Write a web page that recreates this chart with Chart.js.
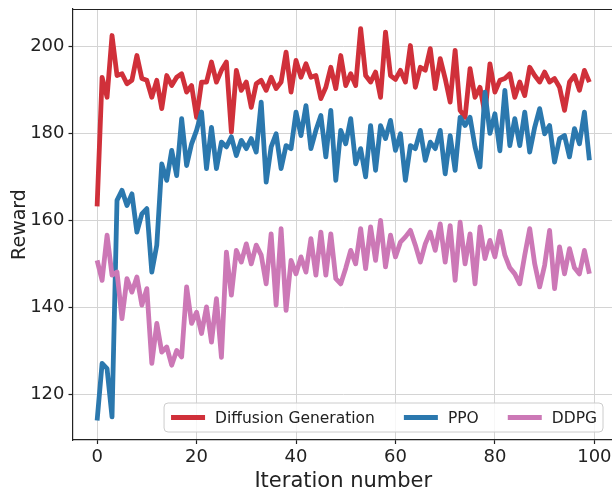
<!DOCTYPE html>
<html>
<head>
<meta charset="utf-8">
<script src="https://cdn.jsdelivr.net/npm/chart.js@4.4.1/dist/chart.umd.min.js"></script>
<style>
html,body{margin:0;padding:0;overflow:hidden;background:#ffffff;width:612px;height:494px;}
#wrap{position:absolute;left:0;top:0;width:614px;height:494px;}
</style>
</head>
<body>
<div id="wrap"><canvas id="c" width="614" height="494"></canvas></div>
<script>
const iterations = [0,1,2,3,4,5,6,7,8,9,10,11,12,13,14,15,16,17,18,19,20,21,22,23,24,25,26,27,28,29,30,31,32,33,34,35,36,37,38,39,40,41,42,43,44,45,46,47,48,49,50,51,52,53,54,55,56,57,58,59,60,61,62,63,64,65,66,67,68,69,70,71,72,73,74,75,76,77,78,79,80,81,82,83,84,85,86,87,88,89,90,91,92,93,94,95,96,97,98,99];

const diffusionGeneration = [163.2,192.9,188.3,202.5,193.3,193.7,191.4,192.2,197.9,192.6,
192.2,188.3,192.2,185.7,193.3,191.0,192.9,193.7,189.5,191.0,
183.7,191.8,191.8,196.4,191.8,194.5,196.4,180.3,194.5,189.9,
191.8,186.0,191.4,192.2,189.9,192.9,190.3,191.8,198.7,189.5,
196.8,192.9,196.0,192.9,193.3,188.0,190.6,195.2,190.3,197.9,
191.0,193.7,191.0,204.1,193.3,191.8,194.1,188.3,203.3,193.3,
192.4,194.5,191.8,200.2,190.6,195.2,194.5,199.5,190.3,197.2,
192.6,187.2,199.1,185.3,183.7,194.9,188.3,190.6,184.5,196.0,
189.5,192.2,192.6,193.7,188.3,191.8,188.7,195.2,193.3,191.8,
194.1,191.8,192.6,190.6,185.3,191.8,193.3,189.9,194.5,191.8];

const ppo = [114.0,127.1,125.9,114.8,164.6,166.9,163.4,166.1,157.3,161.5,
162.7,148.1,154.3,173.0,169.2,176.1,170.3,183.4,172.6,177.6,
180.7,184.9,171.9,181.4,171.9,178.0,176.9,179.2,174.9,178.4,
176.5,178.8,175.7,187.2,168.8,176.9,179.9,171.9,177.2,176.5,
184.9,179.5,186.4,176.5,180.7,184.1,174.6,185.3,169.2,180.7,
177.6,183.4,173.0,176.5,170.0,181.8,171.5,181.8,178.8,183.0,
176.1,179.9,169.2,177.2,176.5,180.7,173.8,178.0,176.5,180.7,
170.7,179.5,171.5,183.7,181.8,183.7,176.9,172.3,189.5,180.0,
184.5,176.0,189.9,177.2,183.4,177.2,184.9,175.7,181.4,185.7,
179.9,181.8,173.4,178.8,179.5,174.6,181.1,177.6,184.9,173.8];

const ddpg = [150.8,146.2,156.6,147.4,148.1,137.4,146.6,143.5,147.0,140.5,
144.3,127.1,136.3,129.7,130.9,126.7,130.1,128.6,144.7,136.3,
138.9,134.0,140.1,132.0,142.0,128.5,152.7,142.8,153.1,150.4,
154.6,150.0,154.3,152.0,145.4,156.9,140.5,158.1,139.3,150.8,
147.7,151.6,148.1,155.8,147.4,157.3,147.4,156.9,146.6,145.4,
149.0,153.1,150.0,158.1,148.9,158.5,150.8,160.0,149.3,156.6,
151.6,155.0,156.2,157.7,154.3,150.4,154.6,157.3,153.1,159.2,
150.4,158.8,146.2,159.6,150.0,156.9,145.4,158.5,151.2,155.4,
151.6,157.5,152.0,149.1,147.7,145.4,152.0,158.1,150.0,144.7,
149.7,157.7,144.3,153.9,147.7,153.5,149.1,147.7,153.1,147.7];

const xTicks = [0,20,40,60,80,100];
const yTicks = [120,140,160,180,200];
const seriesNames = ['Diffusion Generation','PPO','DDPG'];
const seriesColors = ['#d0303a','#2b78ae','#cc78b6'];

const FONT = "'DejaVu Sans', sans-serif";
const TEXT = '#222222';

Chart.defaults.font.family = FONT;
Chart.defaults.color = TEXT;

const framePlugin = {
  id: 'frameAndLegend',
  afterDraw(chart) {
    const ctx = chart.ctx;
    const a = chart.chartArea;
    ctx.save();
    // top spine
    ctx.strokeStyle = TEXT;
    ctx.lineWidth = 1.2;
    ctx.beginPath();
    ctx.moveTo(a.left, a.top + 0.5);
    ctx.lineTo(a.right, a.top + 0.5);
    ctx.stroke();

    // legend (lower right, inside axes)
    const ds = chart.data.datasets;
    ctx.font = '15.5px ' + FONT;
    const handle = 34, gapHT = 10, colGap = 29, padL = 7, padR = 6;
    const widths = ds.map(d => ctx.measureText(d.label).width);
    let total = padL + padR;
    widths.forEach((w, i) => { total += handle + gapHT + w; if (i > 0) total += colGap; });
    const right = 603, bottom = 432, h = 29;
    const left = right - total, top = bottom - h;
    const r = 4;
    ctx.beginPath();
    ctx.moveTo(left + r, top);
    ctx.lineTo(right - r, top);
    ctx.quadraticCurveTo(right, top, right, top + r);
    ctx.lineTo(right, bottom - r);
    ctx.quadraticCurveTo(right, bottom, right - r, bottom);
    ctx.lineTo(left + r, bottom);
    ctx.quadraticCurveTo(left, bottom, left, bottom - r);
    ctx.lineTo(left, top + r);
    ctx.quadraticCurveTo(left, top, left + r, top);
    ctx.closePath();
    ctx.fillStyle = 'rgba(255,255,255,0.8)';
    ctx.fill();
    ctx.strokeStyle = '#cccccc';
    ctx.lineWidth = 1;
    ctx.stroke();

    const cy = top + h / 2;
    let x = left + padL;
    ds.forEach((d, i) => {
      if (i > 0) x += colGap;
      ctx.strokeStyle = d.borderColor;
      ctx.lineWidth = 4.8;
      ctx.lineCap = 'butt';
      ctx.beginPath();
      ctx.moveTo(x, cy);
      ctx.lineTo(x + handle, cy);
      ctx.stroke();
      x += handle + gapHT;
      ctx.fillStyle = TEXT;
      ctx.textBaseline = 'middle';
      ctx.textAlign = 'left';
      ctx.fillText(d.label, x, cy + 1);
      x += widths[i];
    });
    ctx.restore();
  }
};

const seriesData = [diffusionGeneration, ppo, ddpg];

new Chart(document.getElementById('c'), {
  type: 'line',
  data: {
    labels: iterations,
    datasets: seriesData.map((arr, i) => ({
      label: seriesNames[i],
      data: arr,
      borderColor: seriesColors[i],
      backgroundColor: seriesColors[i],
      borderWidth: 4.8,
      pointRadius: 0,
      tension: 0,
      fill: false,
      borderJoinStyle: 'round',
      borderCapStyle: 'butt',
      order: 3 - i
    }))
  },
  options: {
    responsive: false,
    animation: false,
    events: [],
    devicePixelRatio: 1,
    layout: { padding: { top: 9, left: 0, right: 0, bottom: 0 } },
    plugins: { legend: { display: false }, tooltip: { enabled: false } },
    scales: {
      x: {
        type: 'linear',
        min: -4.95,
        max: 103.95,
        afterBuildTicks(scale) { scale.ticks = xTicks.map(v => ({ value: v })); },
        afterFit(scale) { scale.height = 54; scale.paddingLeft = 0; scale.paddingRight = 0; },
        ticks: { font: { size: 18 }, color: TEXT, padding: 3, maxRotation: 0, autoSkip: false },
        grid: { color: '#d4d4d4', lineWidth: 1, drawTicks: true, tickLength: 4, tickColor: TEXT, tickWidth: 1.2 },
        border: { display: true, color: TEXT, width: 1.2 },
        title: { display: true, text: 'Iteration number', font: { size: 21 }, color: TEXT, padding: { top: 0, bottom: 0 } }
      },
      y: {
        type: 'linear',
        min: 109.5,
        max: 208.6,
        afterBuildTicks(scale) { scale.ticks = yTicks.map(v => ({ value: v })); },
        afterFit(scale) { scale.width = 72.5; scale.paddingTop = 0; scale.paddingBottom = 0; },
        ticks: { font: { size: 18 }, color: TEXT, padding: 4, autoSkip: false },
        grid: { color: '#d4d4d4', lineWidth: 1, drawTicks: true, tickLength: 4, tickColor: TEXT, tickWidth: 1.2 },
        border: { display: true, color: TEXT, width: 1.2 },
        title: { display: true, text: 'Reward', font: { size: 19 }, color: TEXT, padding: { top: 9, bottom: 0 } }
      }
    }
  },
  plugins: [framePlugin]
});
</script>
</body>
</html>
